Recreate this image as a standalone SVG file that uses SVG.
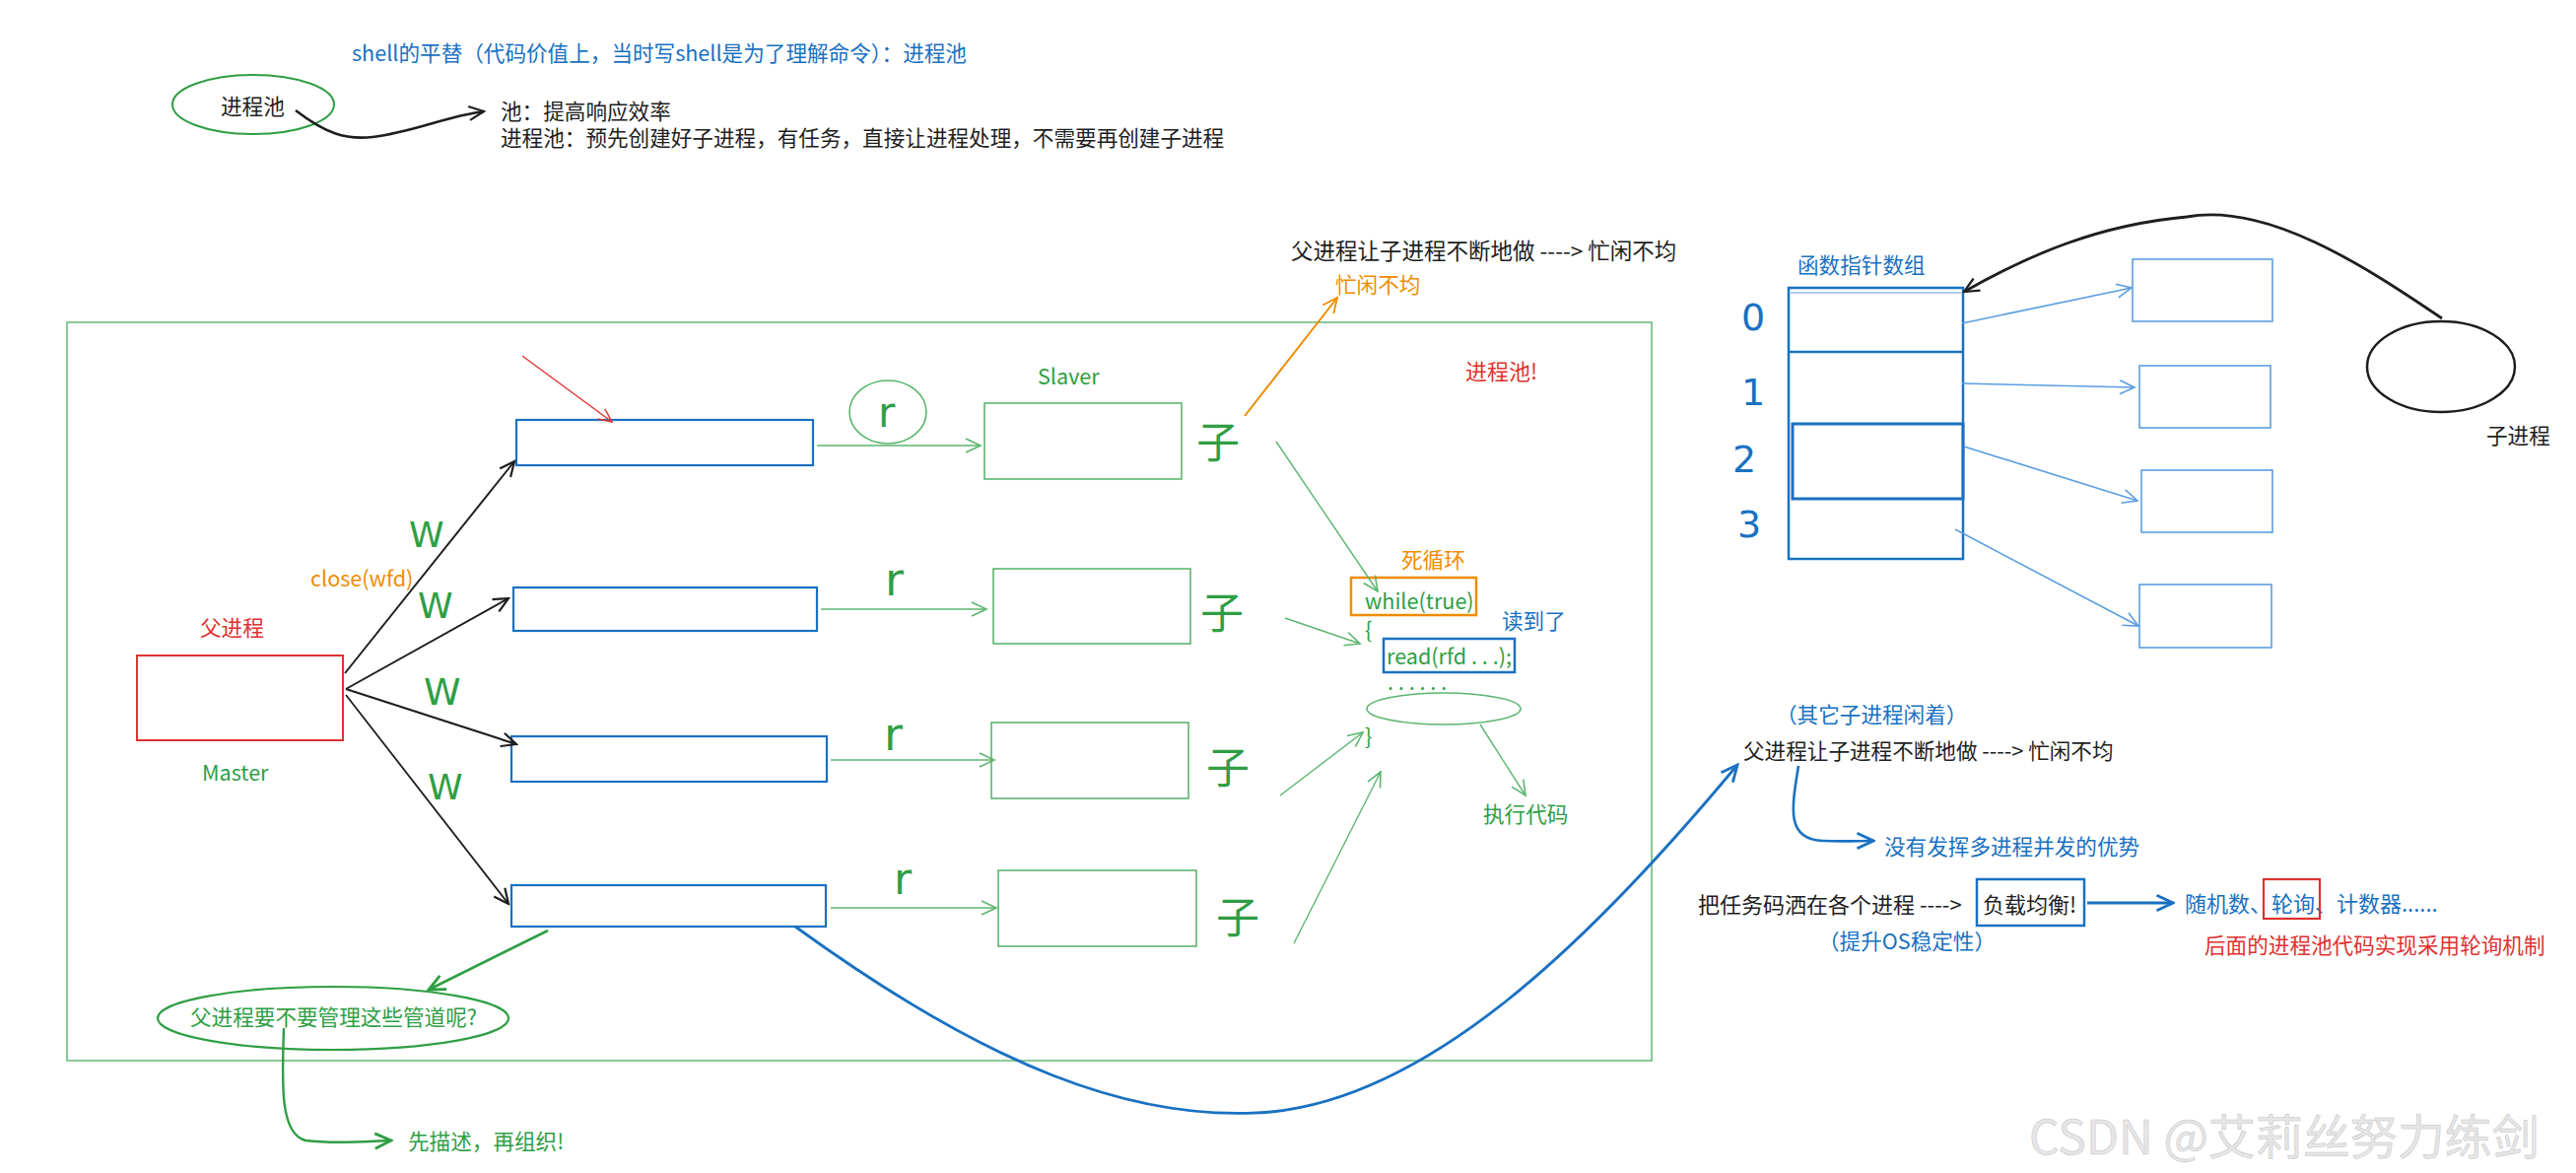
<svg xmlns="http://www.w3.org/2000/svg" width="2614" height="1190" viewBox="0 0 2614 1190">
<style>
text{font-family:"Noto Sans CJK SC","Noto Sans",sans-serif;font-size:21.6px;dominant-baseline:central;fill:#1e1e1e}
.blue{fill:#1971c2}.green{fill:#2f9e44}.red{fill:#e03131}.orange{fill:#f08c00}
.hand{font-family:"DejaVu Sans","Noto Sans",sans-serif;fill:#2f9e44}
.num{font-family:"DejaVu Sans","Noto Sans",sans-serif;fill:#1971c2;font-size:38px}
.bx{fill:none;stroke:#1971c2;stroke-width:2.2}
.gx{fill:none;stroke:#5cb56e;stroke-width:1.6}
.lbx{fill:none;stroke:#5a9ee0;stroke-width:1.6}
.c{fill:none}
</style>
<defs>
<marker id="ak" viewBox="0 0 20 20" refX="18" refY="10" markerWidth="20" markerHeight="20" markerUnits="userSpaceOnUse" orient="auto"><path d="M3,3 L18,10 L3,17" fill="none" stroke="#1e1e1e" stroke-width="2.2"/></marker>
<marker id="ag" viewBox="0 0 20 20" refX="18" refY="10" markerWidth="20" markerHeight="20" markerUnits="userSpaceOnUse" orient="auto"><path d="M3,3 L18,10 L3,17" fill="none" stroke="#5cb56e" stroke-width="1.6"/></marker>
<marker id="agd" viewBox="0 0 20 20" refX="18" refY="10" markerWidth="22" markerHeight="22" markerUnits="userSpaceOnUse" orient="auto"><path d="M3,3 L18,10 L3,17" fill="none" stroke="#2f9e44" stroke-width="2.6"/></marker>
<marker id="ab" viewBox="0 0 20 20" refX="18" refY="10" markerWidth="22" markerHeight="22" markerUnits="userSpaceOnUse" orient="auto"><path d="M3,3 L18,10 L3,17" fill="none" stroke="#1971c2" stroke-width="2.6"/></marker>
<marker id="alb" viewBox="0 0 20 20" refX="18" refY="10" markerWidth="20" markerHeight="20" markerUnits="userSpaceOnUse" orient="auto"><path d="M3,3 L18,10 L3,17" fill="none" stroke="#5a9ee0" stroke-width="1.6"/></marker>
<marker id="ar" viewBox="0 0 20 20" refX="18" refY="10" markerWidth="18" markerHeight="18" markerUnits="userSpaceOnUse" orient="auto"><path d="M3,3 L18,10 L3,17" fill="none" stroke="#e03131" stroke-width="1.6"/></marker>
<marker id="ao" viewBox="0 0 20 20" refX="18" refY="10" markerWidth="20" markerHeight="20" markerUnits="userSpaceOnUse" orient="auto"><path d="M3,3 L18,10 L3,17" fill="none" stroke="#f08c00" stroke-width="1.8"/></marker>
</defs>
<rect width="2614" height="1190" fill="#ffffff"/>

<!-- top notes -->
<g id="title"><text class="blue" x="357" y="52">shell的平替（代码价值上，当时写shell是为了理解命令）：进程池</text></g>
<g id="pool-node"><ellipse cx="257" cy="106" rx="82" ry="30" fill="none" stroke="#2f9e44" stroke-width="2"/><text x="224" y="106">进程池</text></g>
<g id="pool-desc"><text x="508" y="111">池：提高响应效率</text><text x="508" y="138">进程池：预先创建好子进程，有任务，直接让进程处理，不需要再创建子进程</text></g>

<!-- main frame -->
<g id="frame"><rect x="68" y="327" width="1608" height="749" fill="none" stroke="#7cc48b" stroke-width="1.8"/></g>
<g id="busy-note"><text x="1310" y="253" style="font-size:22.5px">父进程让子进程不断地做 ----&gt; 忙闲不均</text><text class="orange" x="1355" y="287">忙闲不均</text></g>
<g id="pool-label"><text class="red" x="1487" y="375" style="font-size:22px">进程池!</text></g>
<g id="slaver-label"><text class="green" x="1053" y="380">Slaver</text></g>

<g id="master"><rect x="139" y="665" width="209" height="86" fill="none" stroke="#e03131" stroke-width="2"/><text class="red" x="203" y="635">父进程</text><text class="green" x="205" y="782">Master</text></g>
<g id="close-label"><text class="orange" x="315" y="585">close(wfd)</text></g>

<g id="pipe1"><rect class="bx" x="524" y="426" width="301" height="46"/></g>
<g id="pipe2"><rect class="bx" x="521" y="596" width="308" height="44"/></g>
<g id="pipe3"><rect class="bx" x="519" y="747" width="320" height="46"/></g>
<g id="pipe4"><rect class="bx" x="519" y="898" width="319" height="42"/></g>

<g id="w-labels">
<text class="hand" x="415" y="542" style="font-size:36px">W</text>
<text class="hand" x="424" y="614" style="font-size:36px">W</text>
<text class="hand" x="430" y="702" style="font-size:38px">W</text>
<text class="hand" x="434" y="798" style="font-size:36px">W</text>
</g>

<g id="slaver1"><rect class="gx" x="999" y="409" width="200" height="77"/></g>
<g id="slaver2"><rect class="gx" x="1008" y="577" width="200" height="76"/></g>
<g id="slaver3"><rect class="gx" x="1006" y="733" width="200" height="77"/></g>
<g id="slaver4"><rect class="gx" x="1013" y="883" width="201" height="77"/></g>

<g id="r-labels">
<ellipse cx="901" cy="418" rx="39" ry="32" fill="none" stroke="#5cb56e" stroke-width="1.6"/>
<text class="hand" x="891" y="418" style="font-size:42px">r</text>
<text class="hand" x="898" y="588" style="font-size:46px">r</text>
<text class="hand" x="897" y="745" style="font-size:46px">r</text>
<text class="hand" x="907" y="891" style="font-size:44px">r</text>
</g>

<g id="zi-labels">
<text class="green" x="1214" y="446" style="font-size:44px">子</text>
<text class="green" x="1218" y="619" style="font-size:44px">子</text>
<text class="green" x="1224" y="776" style="font-size:44px">子</text>
<text class="green" x="1234" y="928" style="font-size:44px">子</text>
</g>

<g id="code">
<text class="orange" x="1422" y="566">死循环</text>
<rect x="1371" y="586" width="127" height="38" fill="none" stroke="#f08c00" stroke-width="2.5"/>
<text class="green" x="1385" y="608">while(true)</text>
<text class="green" x="1385" y="637">{</text>
<text class="blue" x="1524" y="628">读到了</text>
<rect x="1404" y="648" width="133" height="34" fill="none" stroke="#1971c2" stroke-width="2.5"/>
<text class="green" x="1407" y="664">read(rfd . . .);</text>
<text class="green" x="1408" y="690">. . . . . .</text>
<ellipse cx="1465" cy="719" rx="78" ry="16" fill="none" stroke="#5cb56e" stroke-width="1.6"/>
<text class="green" x="1385" y="745">}</text>
<text class="green" x="1505" y="824">执行代码</text>
</g>

<g id="question"><ellipse cx="338" cy="1033" rx="178" ry="32" fill="none" stroke="#2f9e44" stroke-width="2.2"/><text class="green" x="193" y="1030">父进程要不要管理这些管道呢?</text></g>
<g id="answer"><text class="green" x="414" y="1156">先描述，再组织!</text></g>

<!-- right side -->
<g id="array">
<text class="blue" x="1824" y="267">函数指针数组</text>
<rect x="1815" y="292" width="177" height="275" fill="none" stroke="#1971c2" stroke-width="2.5"/>
<line x1="1817" y1="297" x2="1990" y2="297" stroke="#5a9ee0" stroke-width="1.2"/>
<line x1="1815" y1="357" x2="1992" y2="357" stroke="#1971c2" stroke-width="2.5"/>
<rect x="1819" y="430" width="173" height="76" fill="none" stroke="#1971c2" stroke-width="3"/>
<text class="num" x="1767" y="322">0</text>
<text class="num" x="1767" y="398">1</text>
<text class="num" x="1758" y="466">2</text>
<text class="num" x="1763" y="532">3</text>
</g>
<g id="target1"><rect class="lbx" x="2164" y="263" width="142" height="63"/></g>
<g id="target2"><rect class="lbx" x="2171" y="371" width="133" height="63"/></g>
<g id="target3"><rect class="lbx" x="2173" y="477" width="133" height="63"/></g>
<g id="target4"><rect class="lbx" x="2171" y="593" width="134" height="64"/></g>
<g id="child"><ellipse cx="2477" cy="372" rx="75" ry="46" fill="none" stroke="#1e1e1e" stroke-width="2.5"/><text x="2523" y="440">子进程</text></g>

<g id="idle-note"><text class="blue" x="1802" y="723">（其它子进程闲着）</text><text x="1769" y="760">父进程让子进程不断地做 ----&gt; 忙闲不均</text></g>
<g id="no-adv"><text class="blue" x="1912" y="857">没有发挥多进程并发的优势</text></g>
<g id="spread"><text x="1723" y="916" style="font-size:22px">把任务码洒在各个进程 ----&gt;</text><text class="blue" x="1845" y="953">（提升OS稳定性）</text></g>
<g id="balance"><rect x="2006" y="892" width="109" height="47" fill="none" stroke="#1971c2" stroke-width="2.5"/><text x="2012" y="916" style="font-size:22px">负载均衡!</text></g>
<g id="methods"><text class="blue" x="2217" y="915" style="font-size:22px">随机数、轮询、计数器......</text><rect x="2297" y="892" width="57" height="40" fill="none" stroke="#e03131" stroke-width="2.2"/><text class="red" x="2237" y="957">后面的进程池代码实现采用轮询机制</text></g>

<g id="watermark"><text x="2059" y="1150" style="font-size:48px;fill:#e6e6e6;stroke:#c4c4c4;stroke-width:0.5">CSDN @艾莉丝努力练剑</text></g>

<g id="connectors">
<path class="c" d="M300,112 C 330,135 350,142 378,139 C 420,134 452,118 491,113" stroke="#1e1e1e" stroke-width="2.6" marker-end="url(#ak)"/>
<path class="c" d="M350,683 L522,468" stroke="#1e1e1e" stroke-width="2" marker-end="url(#ak)"/>
<path class="c" d="M351,699 L516,607" stroke="#1e1e1e" stroke-width="2" marker-end="url(#ak)"/>
<path class="c" d="M351,699 L524,755" stroke="#1e1e1e" stroke-width="2.2" marker-end="url(#ak)"/>
<path class="c" d="M351,705 L516,917" stroke="#1e1e1e" stroke-width="1.8" marker-end="url(#ak)"/>
<path class="c" d="M530,361 L621,428" stroke="#e03131" stroke-width="1.4" marker-end="url(#ar)"/>
<path class="c" d="M829,452 L995,452" stroke="#5cb56e" stroke-width="1.6" marker-end="url(#ag)"/>
<path class="c" d="M833,618 L1001,618" stroke="#5cb56e" stroke-width="1.6" marker-end="url(#ag)"/>
<path class="c" d="M843,771 L1009,771" stroke="#5cb56e" stroke-width="1.6" marker-end="url(#ag)"/>
<path class="c" d="M843,921 L1011,921" stroke="#5cb56e" stroke-width="1.6" marker-end="url(#ag)"/>
<path class="c" d="M1263,422 L1357,302" stroke="#f08c00" stroke-width="2" marker-end="url(#ao)"/>
<path class="c" d="M1295,448 L1398,600" stroke="#5cb56e" stroke-width="1.4" marker-end="url(#ag)"/>
<path class="c" d="M1304,627 L1380,653" stroke="#5cb56e" stroke-width="1.4" marker-end="url(#ag)"/>
<path class="c" d="M1299,807 L1383,743" stroke="#5cb56e" stroke-width="1.4" marker-end="url(#ag)"/>
<path class="c" d="M1313,957 L1401,783" stroke="#5cb56e" stroke-width="1.4" marker-end="url(#ag)"/>
<path class="c" d="M1502,735 L1548,807" stroke="#5cb56e" stroke-width="1.4" marker-end="url(#ag)"/>
<path class="c" d="M556,944 L435,1004" stroke="#2f9e44" stroke-width="2.6" marker-end="url(#agd)"/>
<path class="c" d="M288,1043 C 286,1100 284,1150 310,1157 C 340,1161 370,1158 397,1157" stroke="#2f9e44" stroke-width="2.4" marker-end="url(#agd)"/>
<path class="c" d="M807,940 C 1000,1080 1150,1140 1290,1128 C 1450,1112 1610,960 1763,776" stroke="#1971c2" stroke-width="2.8" marker-end="url(#ab)"/>
<path class="c" d="M1825,777 C 1818,820 1812,852 1850,853 C 1870,854 1885,853 1901,853" stroke="#1971c2" stroke-width="2.6" marker-end="url(#ab)"/>
<path class="c" d="M2118,916 L2205,916" stroke="#1971c2" stroke-width="3" marker-end="url(#ab)"/>
<path class="c" d="M2478,323 C 2400,270 2300,205 2219,220 C 2130,228 2060,258 1993,296" stroke="#1e1e1e" stroke-width="2.8" marker-end="url(#ak)"/>
<path class="c" d="M1991,328 L2163,292" stroke="#5a9ee0" stroke-width="1.6" marker-end="url(#alb)"/>
<path class="c" d="M1991,389 L2166,393" stroke="#5a9ee0" stroke-width="1.6" marker-end="url(#alb)"/>
<path class="c" d="M1993,453 L2169,508" stroke="#5a9ee0" stroke-width="1.6" marker-end="url(#alb)"/>
<path class="c" d="M1984,537 L2170,635" stroke="#5a9ee0" stroke-width="1.6" marker-end="url(#alb)"/>
</g>
</svg>
